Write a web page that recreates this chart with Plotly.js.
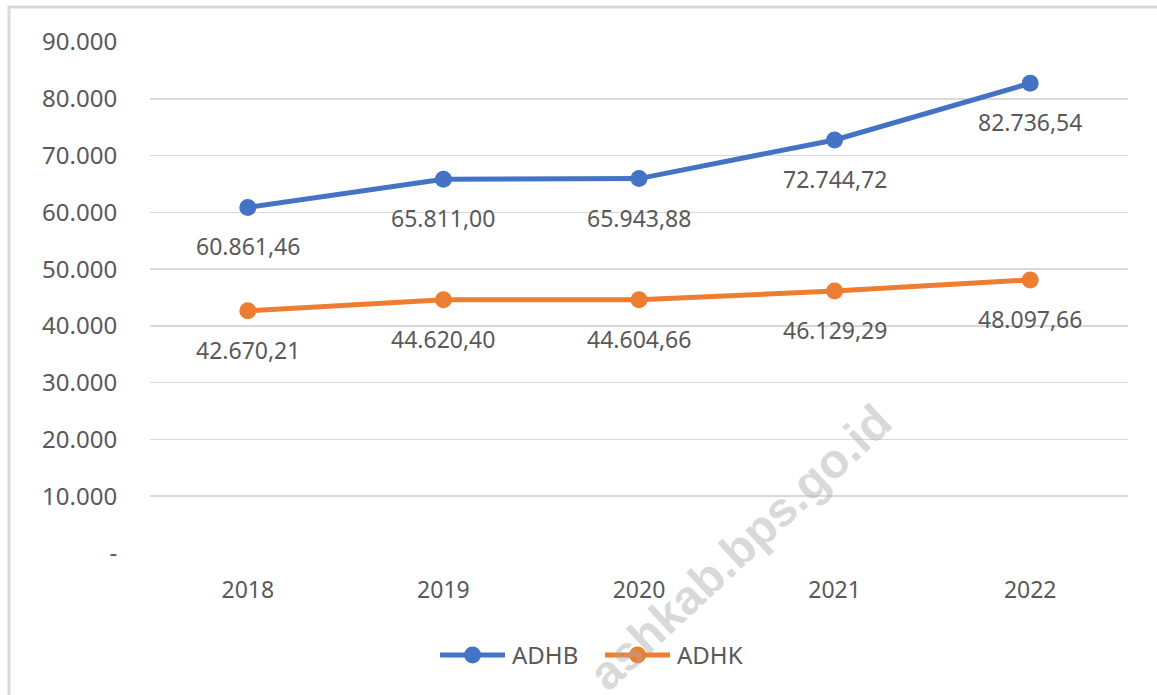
<!DOCTYPE html>
<html>
<head>
<meta charset="utf-8">
<script src="https://cdn.plot.ly/plotly-3.0.1.min.js"></script>
<style>html,body{margin:0;padding:0;background:#fff;}#chart{width:1157px;height:695px;}</style>
</head>
<body>
<div id="chart"></div>
<script>
const years = ["2018", "2019", "2020", "2021", "2022"];
const adhb = [60861.46, 65811.00, 65943.88, 72744.72, 82736.54];
const adhk = [42670.21, 44620.40, 44604.66, 46129.29, 48097.66];
const seriesNames = ["ADHB", "ADHK"];
const tickVals = [0, 10000, 20000, 30000, 40000, 50000, 60000, 70000, 80000, 90000];
const tickText = ["-", "10.000", "20.000", "30.000", "40.000", "50.000", "60.000", "70.000", "80.000", "90.000"];

function fmtID(v) {
  const parts = v.toFixed(2).split(".");
  const intPart = parts[0].replace(/\B(?=(\d{3})+(?!\d))/g, ".");
  return intPart + "," + parts[1];
}

const FONT = "Noto Sans, Open Sans, sans-serif";
const TXT = "#595959";
const BLUE = "#4472C4";
const ORANGE = "#ED7D31";
const colors = [BLUE, ORANGE];

const traces = [
  {x: years, y: adhb, name: seriesNames[0], type: "scatter", mode: "lines+markers",
   line: {color: BLUE, width: 5}, marker: {color: BLUE, size: 17}},
  {x: years, y: adhk, name: seriesNames[1], type: "scatter", mode: "lines+markers",
   line: {color: ORANGE, width: 5}, marker: {color: ORANGE, size: 17}}
];

const annotations = [];
// watermark first so other texts sit above it
annotations.push({x: 0.603, y: -0.294, xref: "paper", yref: "paper", text: "ashkab.bps.go.id",
  showarrow: false, textangle: -43,
  font: {family: "Liberation Sans, Arial, sans-serif", size: 48, color: "rgba(170,170,170,0.45)", weight: "bold"}});

[adhb, adhk].forEach(function (arr) {
  arr.forEach(function (v, i) {
    annotations.push({x: i, y: v, xref: "x", yref: "y", text: fmtID(v),
      showarrow: false, yshift: -39, font: {family: FONT, size: 23, color: TXT}});
  });
});

// custom legend (Excel-style long line samples)
const legendY = -0.1996;
const legendItems = [
  {x0: 0.2965, x1: 0.363, xc: 0.3298, xt: 0.368},
  {x0: 0.4652, x1: 0.5317, xc: 0.4985, xt: 0.5368}
];
const shapes = [{type: "rect", xref: "paper", yref: "paper", x0: -0.1442, x1: 1.2, y0: -0.5, y1: 1.0685,
  line: {color: "#d9d9d9", width: 3}, fillcolor: "rgba(0,0,0,0)", layer: "below"}];
legendItems.forEach(function (it, k) {
  shapes.push({type: "line", xref: "paper", yref: "paper", x0: it.x0, x1: it.x1, y0: legendY, y1: legendY,
    line: {color: colors[k], width: 5}});
  shapes.push({type: "circle", xref: "paper", yref: "paper", xsizemode: "pixel", ysizemode: "pixel",
    xanchor: it.xc, yanchor: legendY, x0: -8.5, x1: 8.5, y0: -8.5, y1: 8.5,
    fillcolor: colors[k], line: {color: colors[k], width: 0}});
  annotations.push({x: it.xt, y: legendY, xref: "paper", yref: "paper", xanchor: "left", yanchor: "middle",
    text: seriesNames[k], showarrow: false, font: {family: FONT, size: 24, color: TXT}});
});

const layout = {
  width: 1157, height: 695,
  margin: {l: 150, r: 29, t: 42, b: 142},
  paper_bgcolor: "#ffffff", plot_bgcolor: "#ffffff",
  font: {family: FONT, color: TXT},
  showlegend: false,
  xaxis: {type: "category", range: [-0.5, 4.5], showgrid: false, zeroline: false, showline: false,
    ticks: "outside", ticklen: 16, tickcolor: "rgba(0,0,0,0)",
    tickfont: {family: FONT, size: 23, color: TXT}},
  yaxis: {range: [0, 90000], tickvals: tickVals, ticktext: tickText, showgrid: true,
    gridcolor: "#d9d9d9", gridwidth: 1.5, zeroline: false, showline: false,
    ticks: "outside", ticklen: 27, tickcolor: "rgba(0,0,0,0)",
    tickfont: {family: FONT, size: 24, color: TXT}},
  annotations: annotations,
  shapes: shapes
};

Plotly.newPlot("chart", traces, layout, {displayModeBar: false, staticPlot: true});
</script>
</body>
</html>
